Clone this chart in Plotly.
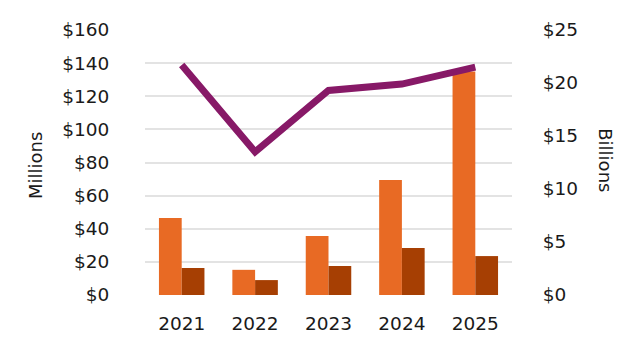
import plotly.graph_objects as go

years = ["2021", "2022", "2023", "2024", "2025"]
series_a_millions = [46.5, 15.2, 35.6, 69.5, 135]
series_b_millions = [16.3, 9.0, 17.5, 28.4, 23.5]
total_billions = [21.7, 13.5, 19.3, 19.9, 21.5]

fig = go.Figure()
fig.add_trace(go.Bar(x=years, y=series_a_millions, marker_color="#E86A24",
                     marker_line_width=0, name="A"))
fig.add_trace(go.Bar(x=years, y=series_b_millions, marker_color="#A63F03",
                     marker_line_width=0, name="B"))
fig.add_trace(go.Scatter(x=years, y=total_billions, yaxis="y2", mode="lines",
                         line=dict(color="#871967", width=7), name="Total"))

family = "DejaVu Sans, Verdana, sans-serif"
font = dict(family=family, size=18.5, color="#1a1a1a")

fig.update_layout(
    width=632, height=344,
    margin=dict(l=145, r=120, t=30, b=49),
    paper_bgcolor="white", plot_bgcolor="white",
    showlegend=False,
    barmode="group", bargap=0.38, bargroupgap=0,
    font=font,
    xaxis=dict(showgrid=False, showline=False, ticks="outside", ticklen=12,
               tickcolor="rgba(0,0,0,0)", tickfont=font, automargin=False),
    yaxis=dict(range=[0, 160], dtick=20, tickprefix="$", showgrid=True,
               gridcolor="#e3e3e3", gridwidth=2, zeroline=False, showline=False,
               ticks="outside", ticklen=31, tickcolor="rgba(0,0,0,0)", tickfont=font,
               automargin=False),
    yaxis2=dict(range=[0, 25], dtick=5, tickprefix="$", overlaying="y", side="right",
                showgrid=False, zeroline=False, showline=False,
                ticks="outside", ticklen=26, tickcolor="rgba(0,0,0,0)", tickfont=font,
                automargin=False),
    annotations=[
        dict(text="Millions", xref="paper", yref="paper", x=-0.3, y=0.49,
             xanchor="center", yanchor="middle", textangle=-90, showarrow=False,
             font=dict(family=family, size=18, color="#1a1a1a")),
        dict(text="Billions", xref="paper", yref="paper", x=1.255, y=0.51,
             xanchor="center", yanchor="middle", textangle=90, showarrow=False,
             font=dict(family=family, size=18, color="#1a1a1a")),
    ],
)

fig.write_html("out.html")
